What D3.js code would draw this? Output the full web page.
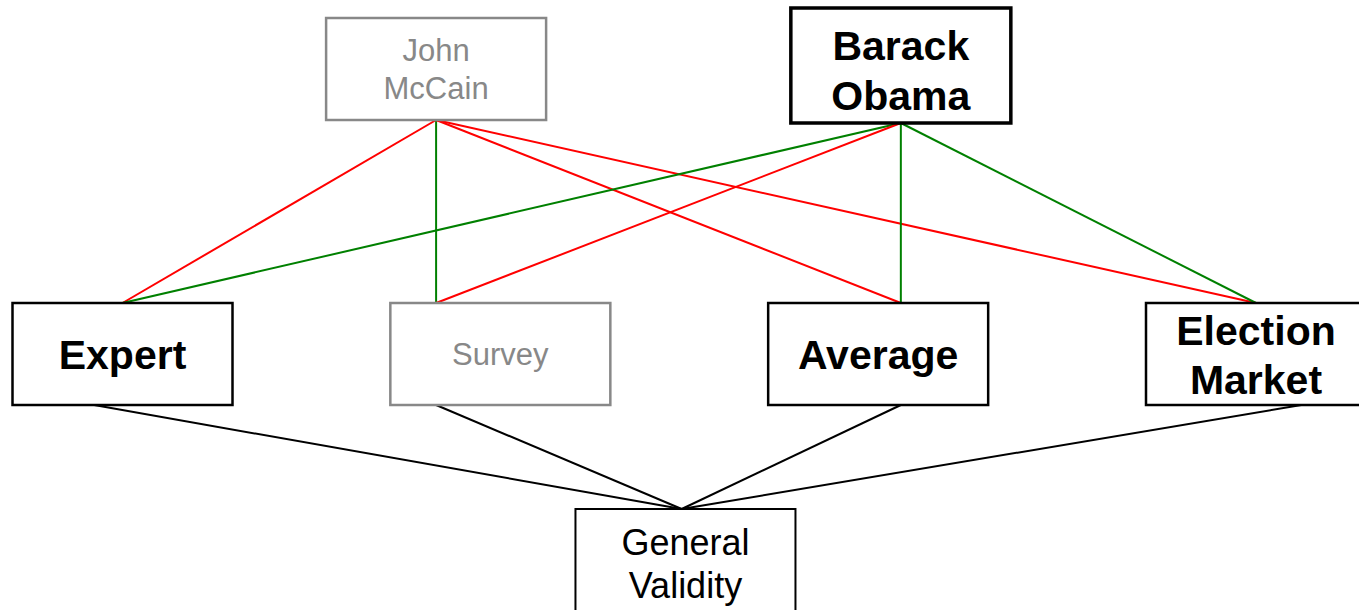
<!DOCTYPE html>
<html>
<head>
<meta charset="utf-8">
<script src="https://cdn.jsdelivr.net/npm/d3@7"></script>
<style>
  body { margin: 0; background: #fff; }
  svg { display: block; }
</style>
</head>
<body>
<svg id="chart" width="1359" height="610"></svg>
<script>
// nodes: name lines, column position, row, look
var names = [["John", "McCain"], ["Barack", "Obama"], ["Expert"], ["Survey"], ["Average"], ["Election", "Market"], ["General", "Validity"]];
var cols = [0.83, 2.06, 0, 1, 2, 3, 1.49];
var rows = [0, 0, 1, 1, 1, 1, 2];
var looks = ["gray", "strong", "bold", "gray", "bold", "bold", "plain"];
// where lines leave the top / bottom of each node (in column units)
var topPort = [null, null, 0, 0.83, 2.06, 3, 1.48];
var botPort = [0.83, 2.06, -0.075, 0.83, 2.06, 3.12, null];

// edges: from candidate to method (red = wrong, green = right), method to validity
var edgeFrom = [0, 0, 0, 0, 1, 1, 1, 1, 2, 3, 4, 5];
var edgeTo   = [2, 3, 4, 5, 2, 3, 4, 5, 6, 6, 6, 6];
var edgeKind = ["wrong", "right", "wrong", "wrong", "right", "wrong", "right", "right", "link", "link", "link", "link"];

var svg = d3.select("#chart");

var x = d3.scaleLinear().domain([0, 3]).range([122.5, 1256]);
var yTop = d3.scaleOrdinal().domain([0, 1, 2]).range([18, 303, 509]);
var boxH = d3.scaleOrdinal().domain([0, 1, 2]).range([102, 102, 104]);

var edgeColor = { wrong: "#ff0000", right: "#008000", link: "#000000" };

function nodeTop(i) { return looks[i] == "strong" ? 8 : yTop(rows[i]); }
function nodeBottom(i) { return looks[i] == "strong" ? 123 : yTop(rows[i]) + boxH(rows[i]); }

edgeFrom.forEach(function(f, k) {
  var t = edgeTo[k];
  svg.append("line")
    .attr("x1", x(botPort[f])).attr("y1", nodeBottom(f))
    .attr("x2", x(topPort[t])).attr("y2", nodeTop(t))
    .style("stroke", edgeColor[edgeKind[k]])
    .style("stroke-width", 2);
});

var lookStyle = {
  gray:   { stroke: "#888888", sw: 2.5, fill: "#888888", size: 31, weight: "400", lh: 38, shift: 0 },
  strong: { stroke: "#000000", sw: 3.5, fill: "#000000", size: 41, weight: "700", lh: 50, shift: 5 },
  bold:   { stroke: "#000000", sw: 2.5, fill: "#000000", size: 41, weight: "700", lh: 49, shift: 1 },
  plain:  { stroke: "#000000", sw: 2, fill: "#000000", size: 36, weight: "400", lh: 43, shift: 0 }
};

names.forEach(function(lines, i) {
  var s = lookStyle[looks[i]];
  var cx = x(cols[i]);
  var y0 = nodeTop(i), y1 = nodeBottom(i);
  svg.append("rect")
    .attr("x", cx - 110).attr("y", y0)
    .attr("width", 220).attr("height", y1 - y0)
    .style("fill", "white")
    .style("stroke", s.stroke)
    .style("stroke-width", s.sw);
  var mid = (y0 + y1) / 2 + s.shift;
  if (rows[i] == 2) mid = y0 + 55;
  var first = mid - (lines.length - 1) * s.lh / 2;
  lines.forEach(function(txt, j) {
    svg.append("text")
      .attr("x", cx).attr("y", first + j * s.lh)
      .attr("text-anchor", "middle")
      .attr("dy", "0.35em")
      .text(txt)
      .style("font-family", "Liberation Sans, Arial, sans-serif")
      .style("font-weight", s.weight)
      .style("font-size", s.size + "px")
      .style("fill", s.fill);
  });
});
</script>
</body>
</html>
